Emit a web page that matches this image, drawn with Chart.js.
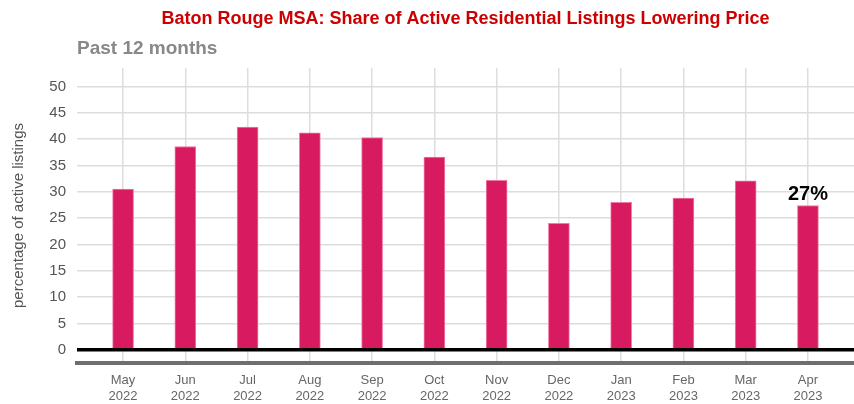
<!DOCTYPE html>
<html>
<head>
<meta charset="utf-8">
<script src="https://cdn.jsdelivr.net/npm/chart.js@4.4.0/dist/chart.umd.min.js"></script>
<style>
  body { margin: 0; background: #fff; }
  #wrap { width: 854px; height: 404px; }
</style>
</head>
<body>
<div id="wrap"><canvas id="myChart" width="854" height="404"></canvas></div>
<script>
// datos
const months = ['May', 'Jun', 'Jul', 'Aug', 'Sep', 'Oct', 'Nov', 'Dec', 'Jan', 'Feb', 'Mar', 'Apr'];
const years = ['2022', '2022', '2022', '2022', '2022', '2022', '2022', '2022', '2023', '2023', '2023', '2023'];
const shareLowering = [30.5, 38.6, 42.3, 41.2, 40.3, 36.6, 32.2, 24.0, 28.0, 28.8, 32.1, 27.4];
const yTicks = [0, 5, 10, 15, 20, 25, 30, 35, 40, 45, 50];
const lastLabel = '27%';

const FONT = "'Liberation Sans', Arial, sans-serif";
const points = shareLowering.map((v, i) => ({ x: i, y: v }));

// titulo y subtitulo sobre el area del grafico + etiqueta del ultimo valor
const extras = {
    id: 'extras',
    afterDraw(chart) {
        const c = chart.ctx;
        const area = chart.chartArea;
        c.save();
        c.fillStyle = '#cc0000';
        c.font = 'bold 18px ' + FONT;
        c.textAlign = 'center';
        c.textBaseline = 'alphabetic';
        c.fillText('Baton Rouge MSA: Share of Active Residential Listings Lowering Price', (area.left + area.right) / 2, 24);

        c.fillStyle = '#888888';
        c.font = 'bold 19px ' + FONT;
        c.textAlign = 'left';
        c.fillText('Past 12 months', area.left, 54);

        const meta = chart.getDatasetMeta(0);
        const bar = meta.data[meta.data.length - 1];
        c.fillStyle = '#000';
        c.font = 'bold 20px ' + FONT;
        c.textAlign = 'center';
        c.fillText(lastLabel, bar.x, bar.y - 5);
        c.restore();
    }
};

new Chart(document.getElementById('myChart'), {
    type: 'bar',
    data: {
        datasets: [{
            data: points,
            backgroundColor: '#d81b60',
            borderColor: '#f07aa3',
            borderWidth: 1,
            barThickness: 21
        }]
    },
    options: {
        responsive: false,
        animation: false,
        layout: { padding: { top: 68, right: 0, left: 0, bottom: 0 } },
        plugins: {
            legend: { display: false },
            tooltip: { enabled: false }
        },
        scales: {
            x: {
                type: 'linear',
                min: -0.74,
                max: 11.74,
                offset: false,
                afterBuildTicks(scale) {
                    scale.ticks = months.map((m, i) => ({ value: i }));
                },
                grid: {
                    color: '#dddddd',
                    lineWidth: 1.5,
                    drawTicks: false,
                    offset: false
                },
                border: { color: '#6e6e6e', width: 4 },
                ticks: {
                    color: '#666666',
                    font: { family: FONT, size: 13 },
                    padding: 10,
                    maxRotation: 0,
                    autoSkip: false,
                    callback: (v) => [months[v], years[v]]
                },
                afterFit(scale) { scale.height = 41; }
            },
            y: {
                min: -2.5,
                max: 53.5,
                afterBuildTicks(scale) {
                    scale.ticks = yTicks.map(v => ({ value: v }));
                },
                grid: {
                    color: ctx => ctx.tick && ctx.tick.value === 0 ? '#000000' : '#dddddd',
                    lineWidth: ctx => ctx.tick && ctx.tick.value === 0 ? 3.5 : 1.5,
                    drawTicks: false
                },
                border: { display: false },
                ticks: {
                    color: '#555555',
                    font: { family: FONT, size: 15 },
                    padding: 11
                },
                title: {
                    display: true,
                    text: 'percentage of active listings',
                    color: '#555555',
                    font: { family: FONT, size: 15 },
                    padding: { top: 10, bottom: 0 }
                },
                afterFit(scale) { scale.width = 77; }
            }
        }
    },
    plugins: [extras]
});
</script>
</body>
</html>
